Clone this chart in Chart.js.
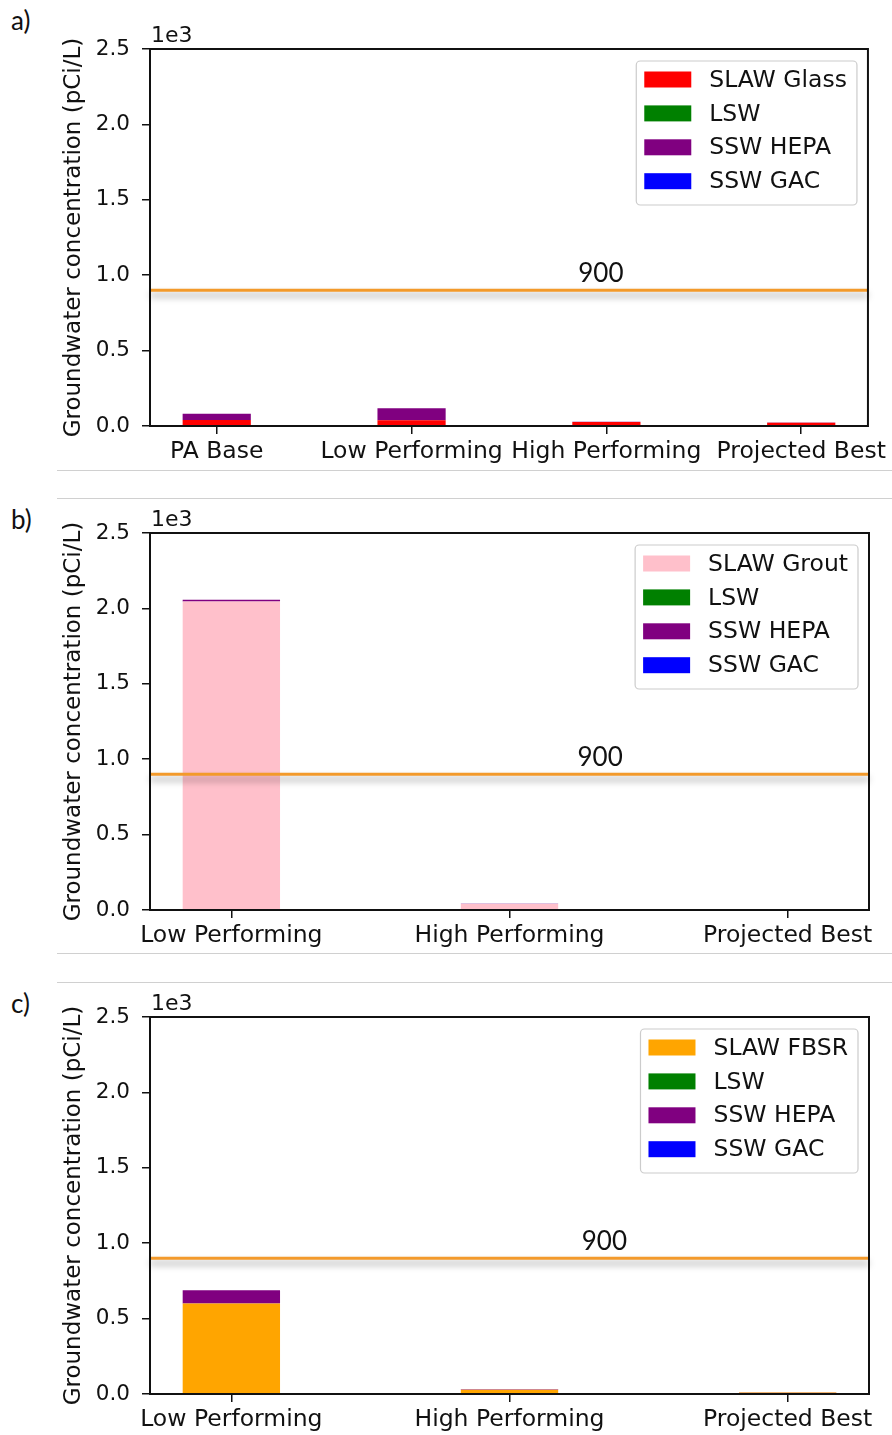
<!DOCTYPE html>
<html>
<head>
<meta charset="utf-8">
<script src="https://cdn.jsdelivr.net/npm/chart.js@4/dist/chart.umd.min.js"></script>
<style>
  html, body { margin: 0; padding: 0; width: 892px; height: 1435px; overflow: hidden; background: #fff; }
  .panel { position: absolute; left: 0; width: 892px; height: 480px; }
  .tag { position: absolute; left: 11px; font: 26px Lato, "Liberation Sans", sans-serif; color: #111; line-height: 30px; }
  .rule { position: absolute; left: 57px; width: 835px; height: 1px; background: #d0d0d0; }
</style>
</head>
<body>
<div class="tag" style="top:5px">a)</div>
<div class="tag" style="top:504px">b)</div>
<div class="tag" style="top:988px">c)</div>
<div class="rule" style="top:470px"></div>
<div class="rule" style="top:498px"></div>
<div class="rule" style="top:953px"></div>
<div class="rule" style="top:982px"></div>
<canvas id="chartA" class="panel" width="892" height="480" style="top:0px"></canvas>
<canvas id="chartB" class="panel" width="892" height="480" style="top:484px"></canvas>
<canvas id="chartC" class="panel" width="892" height="480" style="top:968px"></canvas>
<script>
// Scenario categories
const categoriesA = ['PA Base', 'Low Performing', 'High Performing', 'Projected Best'];
const categoriesBC = ['Low Performing', 'High Performing', 'Projected Best'];

// a) glass waste form (pCi/L)
const slawGlass = [40, 38, 27, 22];
const lswA = [0, 0, 0, 0];
const hepaA = [42, 80, 1, 1];
const gacA = [0, 0, 0, 0];

// b) grout waste form (pCi/L)
const slawGrout = [2045, 40, 2];
const lswB = [0, 0, 0];
const hepaB = [12, 1, 0];
const gacB = [0, 0, 0];

// c) FBSR waste form (pCi/L)
const slawFbsr = [600, 28, 10];
const lswC = [0, 0, 0];
const hepaC = [88, 3, 1];
const gacC = [0, 0, 0];

// Drinking-water limit and y tick values
const limit = 900;
const yTickValues = [0, 500, 1000, 1500, 2000, 2500];
const yTickLabels = ['0.0', '0.5', '1.0', '1.5', '2.0', '2.5'];
const yOffsetLabel = '1e3';
const yTitle = 'Groundwater concentration (pCi/L)';

const BAR_W = 0.35;
const INK = '#111';
Chart.defaults.font.family = '"DejaVu Sans", sans-serif';
Chart.defaults.color = INK;

// x-range with 5% padding around the bars
function xBounds(n, w) {
  const span = (n - 1) + w;
  const m = 0.05 * span;
  return [-w / 2 - m, n - 1 + w / 2 + m];
}

const limitLine = {
  id: 'limitLine',
  afterDatasetsDraw(chart, args, opts) {
    const { ctx, chartArea: a, scales: { y } } = chart;
    const py = y.getPixelForValue(opts.value);
    ctx.save();
    ctx.shadowColor = 'rgba(0,0,0,0.38)';
    ctx.shadowBlur = 7;
    ctx.shadowOffsetY = 5;
    ctx.strokeStyle = '#f39a2b';
    ctx.lineWidth = 3;
    ctx.beginPath();
    ctx.moveTo(a.left, py);
    ctx.lineTo(a.right, py);
    ctx.stroke();
    ctx.restore();
    ctx.save();
    ctx.font = '26px Lato, "Liberation Sans", sans-serif';
    ctx.fillStyle = INK;
    ctx.textAlign = 'center';
    ctx.textBaseline = 'middle';
    ctx.fillText(String(opts.value), a.left + opts.at * (a.right - a.left), py - 17);
    ctx.restore();
  }
};

const frame = {
  id: 'frame',
  afterDraw(chart) {
    const { ctx, chartArea: a } = chart;
    ctx.save();
    ctx.strokeStyle = INK;
    ctx.lineWidth = 2;
    ctx.strokeRect(a.left, a.top, a.right - a.left, a.bottom - a.top);
    ctx.font = '22px "DejaVu Sans", sans-serif';
    ctx.fillStyle = INK;
    ctx.textAlign = 'left';
    ctx.textBaseline = 'alphabetic';
    ctx.fillText(yOffsetLabel, a.left + 1, a.top - 7);
    ctx.restore();
  }
};

const boxLegend = {
  id: 'boxLegend',
  afterDraw(chart) {
    const { ctx, chartArea: a } = chart;
    const sets = chart.data.datasets;
    ctx.save();
    ctx.font = '23.5px "DejaVu Sans", sans-serif';
    let tw = 0;
    sets.forEach(d => { tw = Math.max(tw, ctx.measureText(d.label).width); });
    const padL = 8, patchW = 47, patchH = 16, gap = 18, padR = 10, rowH = 33.9;
    const w = padL + patchW + gap + tw + padR;
    const h = 144;
    const right = a.right - 11;
    const left = right - w;
    const top = a.top + 12;
    ctx.beginPath();
    ctx.roundRect(left, top, w, h, 4);
    ctx.fillStyle = 'rgba(255,255,255,0.85)';
    ctx.fill();
    ctx.strokeStyle = '#cccccc';
    ctx.lineWidth = 1.2;
    ctx.stroke();
    sets.forEach((d, i) => {
      const cy = top + 18.5 + i * rowH;
      ctx.fillStyle = d.backgroundColor;
      ctx.fillRect(left + padL, cy - patchH / 2, patchW, patchH);
      ctx.fillStyle = INK;
      ctx.textAlign = 'left';
      ctx.textBaseline = 'middle';
      ctx.fillText(d.label, left + padL + patchW + gap, cy + 1);
    });
    ctx.restore();
  }
};

function makePanel(id, cats, series, labelAt) {
  const [xmin, xmax] = xBounds(cats.length, BAR_W);
  return new Chart(document.getElementById(id), {
    type: 'bar',
    data: {
      datasets: series.map(s => ({
        label: s.label,
        backgroundColor: s.color,
        borderWidth: 0,
        data: s.values.map((v, i) => ({ x: i, y: v }))
      }))
    },
    options: {
      responsive: false,
      animation: false,
      devicePixelRatio: 1,
      categoryPercentage: 1,
      barPercentage: BAR_W,
      layout: { padding: { left: 0, top: 49, right: 23, bottom: 8 } },
      plugins: {
        legend: { display: false },
        tooltip: { enabled: false },
        limitLine: { value: limit, at: labelAt }
      },
      scales: {
        x: {
          type: 'linear',
          stacked: true,
          offset: false,
          min: xmin,
          max: xmax,
          afterBuildTicks: s => { s.ticks = cats.map((c, i) => ({ value: i })); },
          afterFit: s => { s.height = 46; },
          grid: { offset: false, drawOnChartArea: false, color: INK, lineWidth: 1.5, tickLength: 8 },
          border: { display: false },
          ticks: {
            autoSkip: false, maxRotation: 0, minRotation: 0, padding: 4,
            color: INK, font: { size: 23.5 },
            callback: v => cats[v]
          }
        },
        y: {
          stacked: true,
          min: yTickValues[0],
          max: yTickValues[yTickValues.length - 1],
          afterBuildTicks: s => { s.ticks = yTickValues.map(v => ({ value: v })); },
          afterFit: s => { s.width = 150; },
          grid: { drawOnChartArea: false, color: INK, lineWidth: 1.5, tickLength: 8 },
          border: { display: false },
          ticks: {
            padding: 12, color: INK, font: { size: 21.5 },
            callback: v => yTickLabels[yTickValues.indexOf(v)]
          },
          title: {
            display: true, text: yTitle, color: INK,
            font: { size: 23 }, padding: { top: 60, bottom: 0 }
          }
        }
      }
    },
    plugins: [limitLine, boxLegend, frame]
  });
}

makePanel('chartA', categoriesA, [
  { label: 'SLAW Glass', color: '#ff0000', values: slawGlass },
  { label: 'LSW', color: '#008000', values: lswA },
  { label: 'SSW HEPA', color: '#800080', values: hepaA },
  { label: 'SSW GAC', color: '#0000ff', values: gacA }
], 0.628);

makePanel('chartB', categoriesBC, [
  { label: 'SLAW Grout', color: '#ffc0cb', values: slawGrout },
  { label: 'LSW', color: '#008000', values: lswB },
  { label: 'SSW HEPA', color: '#800080', values: hepaB },
  { label: 'SSW GAC', color: '#0000ff', values: gacB }
], 0.626);

makePanel('chartC', categoriesBC, [
  { label: 'SLAW FBSR', color: '#ffa500', values: slawFbsr },
  { label: 'LSW', color: '#008000', values: lswC },
  { label: 'SSW HEPA', color: '#800080', values: hepaC },
  { label: 'SSW GAC', color: '#0000ff', values: gacC }
], 0.632);
</script>
</body>
</html>
